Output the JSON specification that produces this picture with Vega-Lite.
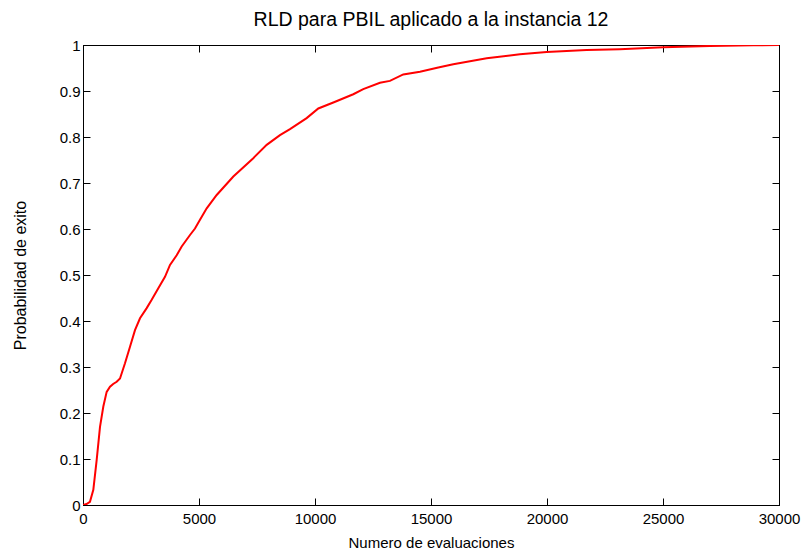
{
  "$schema": "https://vega.github.io/schema/vega-lite/v6.json",
  "width": 696,
  "height": 460,
  "autosize": {"type": "none"},
  "padding": {"left": 83, "top": 45, "right": 27, "bottom": 48},
  "background": "white",
  "title": {
    "text": "RLD para PBIL aplicado a la instancia 12",
    "font": "Liberation Sans",
    "fontSize": 19.5,
    "fontWeight": "normal",
    "color": "black",
    "anchor": "middle",
    "baseline": "alphabetic",
    "offset": 18,
    "dy": 25
  },
  "data": {
    "values": [
      {"evaluaciones": 0, "prob": 0.0},
      {"evaluaciones": 150, "prob": 0.002},
      {"evaluaciones": 300, "prob": 0.007},
      {"evaluaciones": 445, "prob": 0.033},
      {"evaluaciones": 590, "prob": 0.098},
      {"evaluaciones": 733, "prob": 0.17},
      {"evaluaciones": 876, "prob": 0.214},
      {"evaluaciones": 1020, "prob": 0.246},
      {"evaluaciones": 1164, "prob": 0.257},
      {"evaluaciones": 1300, "prob": 0.263},
      {"evaluaciones": 1452, "prob": 0.268},
      {"evaluaciones": 1595, "prob": 0.275},
      {"evaluaciones": 1810, "prob": 0.308},
      {"evaluaciones": 2026, "prob": 0.344},
      {"evaluaciones": 2241, "prob": 0.38},
      {"evaluaciones": 2457, "prob": 0.406},
      {"evaluaciones": 2745, "prob": 0.428},
      {"evaluaciones": 2961, "prob": 0.446},
      {"evaluaciones": 3246, "prob": 0.471},
      {"evaluaciones": 3534, "prob": 0.496},
      {"evaluaciones": 3750, "prob": 0.522},
      {"evaluaciones": 4038, "prob": 0.543},
      {"evaluaciones": 4254, "prob": 0.562},
      {"evaluaciones": 4612, "prob": 0.587},
      {"evaluaciones": 4827, "prob": 0.601},
      {"evaluaciones": 5043, "prob": 0.62},
      {"evaluaciones": 5332, "prob": 0.645},
      {"evaluaciones": 5763, "prob": 0.674},
      {"evaluaciones": 6480, "prob": 0.714},
      {"evaluaciones": 7340, "prob": 0.754},
      {"evaluaciones": 7918, "prob": 0.783},
      {"evaluaciones": 8490, "prob": 0.804},
      {"evaluaciones": 8922, "prob": 0.817},
      {"evaluaciones": 9640, "prob": 0.841},
      {"evaluaciones": 10143, "prob": 0.862},
      {"evaluaciones": 10790, "prob": 0.875},
      {"evaluaciones": 11650, "prob": 0.893},
      {"evaluaciones": 12080, "prob": 0.904},
      {"evaluaciones": 12800, "prob": 0.918},
      {"evaluaciones": 13230, "prob": 0.922},
      {"evaluaciones": 13805, "prob": 0.936},
      {"evaluaciones": 14525, "prob": 0.942},
      {"evaluaciones": 15314, "prob": 0.951},
      {"evaluaciones": 15960, "prob": 0.958},
      {"evaluaciones": 17400, "prob": 0.971},
      {"evaluaciones": 18835, "prob": 0.98},
      {"evaluaciones": 19985, "prob": 0.985},
      {"evaluaciones": 21710, "prob": 0.989},
      {"evaluaciones": 23140, "prob": 0.991},
      {"evaluaciones": 25010, "prob": 0.995},
      {"evaluaciones": 27020, "prob": 0.998},
      {"evaluaciones": 28890, "prob": 0.9994},
      {"evaluaciones": 30000, "prob": 1.0}
    ]
  },
  "layer": [
    {
      "mark": {"type": "line", "color": "#ff0000", "strokeWidth": 2, "clip": true},
      "encoding": {
        "x": {
          "field": "evaluaciones",
          "type": "quantitative",
          "scale": {"domain": [0, 30000], "nice": false, "zero": false},
          "axis": {
            "orient": "bottom",
            "values": [0, 5000, 10000, 15000, 20000, 25000, 30000],
            "format": "d",
            "title": "Numero de evaluaciones",
            "titleFontSize": 15,
            "titlePadding": 9,
            "labelPadding": 13
          }
        },
        "y": {
          "field": "prob",
          "type": "quantitative",
          "scale": {"domain": [0, 1], "nice": false},
          "axis": {
            "orient": "left",
            "values": [0, 0.1, 0.2, 0.3, 0.4, 0.5, 0.6, 0.7, 0.8, 0.9, 1],
            "labelExpr": "datum.value == 0 ? '0' : datum.value == 1 ? '1' : format(datum.value, '.1f')",
            "title": "Probabilidad de exito",
            "titleFontSize": 16,
            "titleAngle": -90,
            "titleAlign": "center",
            "titleBaseline": "middle",
            "titleX": -63,
            "titleY": 230,
            "labelPadding": 10
          }
        }
      }
    },
    {
      "mark": {"type": "line", "opacity": 0},
      "encoding": {
        "x": {
          "field": "evaluaciones",
          "type": "quantitative",
          "scale": {"domain": [0, 30000], "nice": false, "zero": false},
          "axis": {
            "orient": "top",
            "values": [0, 5000, 10000, 15000, 20000, 25000, 30000],
            "labels": false,
            "title": null
          }
        },
        "y": {
          "field": "prob",
          "type": "quantitative",
          "scale": {"domain": [0, 1], "nice": false},
          "axis": {
            "orient": "right",
            "values": [0, 0.1, 0.2, 0.3, 0.4, 0.5, 0.6, 0.7, 0.8, 0.9, 1],
            "labels": false,
            "title": null
          }
        }
      }
    }
  ],
  "resolve": {"axis": {"x": "independent", "y": "independent"}},
  "config": {
    "view": {"stroke": "black", "strokeWidth": 1},
    "axis": {
      "grid": false,
      "domain": true,
      "domainColor": "black",
      "domainWidth": 1,
      "ticks": true,
      "tickColor": "black",
      "tickWidth": 1,
      "tickSize": -7,
      "labelFont": "Liberation Sans",
      "labelFontSize": 15,
      "labelColor": "black",
      "labelFlush": false,
      "labelOverlap": false,
      "titleFont": "Liberation Sans",
      "titleFontWeight": "normal",
      "titleColor": "black"
    }
  }
}
